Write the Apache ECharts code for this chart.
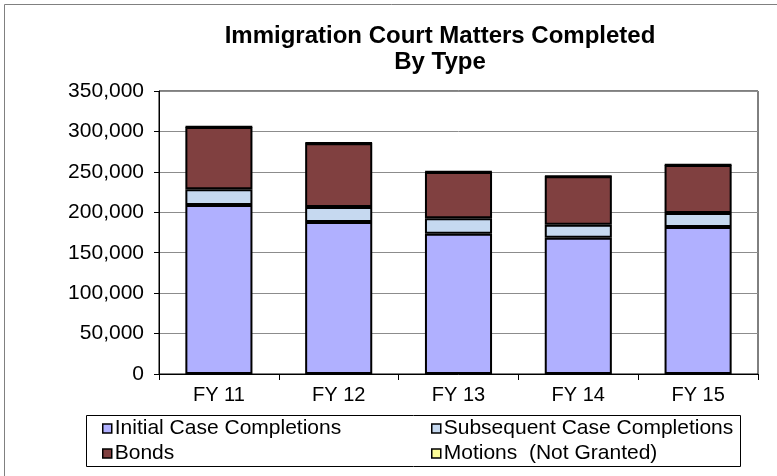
<!DOCTYPE html>
<html>
<head>
<meta charset="utf-8">
<script src="https://cdn.jsdelivr.net/npm/echarts@6/dist/echarts.min.js"></script>
<style>
  html, body { margin: 0; padding: 0; background: #fff; }
  #chart { width: 777px; height: 476px; }
</style>
</head>
<body>
<div id="chart"></div>
<script>
'use strict';

var categories = ['FY 11', 'FY 12', 'FY 13', 'FY 14', 'FY 15'];
var initialCase = [209000, 188000, 173600, 168600, 181800];
var subsequentCase = [19500, 18600, 19000, 16100, 17400];
var bonds = [77000, 78800, 57300, 59800, 59300];
var motions = [400, 400, 400, 400, 400];
var yTicks = [0, 50000, 100000, 150000, 200000, 250000, 300000, 350000];

var font = 'Liberation Sans, Arial, sans-serif';

var makeSeries = function (name, data, color) {
    return {
        name: name,
        type: 'bar',
        stack: 'total',
        data: data,
        barCategoryGap: '44%',
        itemStyle: { color: color, borderColor: '#000', borderWidth: 2 }
    };
};

var legendBase = {
    orient: 'vertical',
    top: 413,
    itemWidth: 9,
    itemHeight: 9,
    itemGap: 4,
    icon: 'rect',
    textStyle: { fontFamily: font, fontSize: 21, color: '#000', padding: [0, 0, 0, -2] },
    itemStyle: { borderColor: '#000', borderWidth: 1.5 }
};

var chart = echarts.init(document.getElementById('chart'));
chart.setOption({
    animation: false,
    title: {
        text: 'Immigration Court Matters Completed\nBy Type',
        left: 435,
        top: 18,
        textAlign: 'center',
        textStyle: { fontFamily: font, fontSize: 24, fontWeight: 'bold', color: '#000', lineHeight: 26 }
    },
    legend: [
        Object.assign({}, legendBase, { left: 97, data: ['Initial Case Completions', 'Bonds'] }),
        Object.assign({}, legendBase, { left: 426, data: ['Subsequent Case Completions', 'Motions  (Not Granted)'] })
    ],
    grid: {
        left: 159, right: 19, top: 91, bottom: 102,
        show: true, borderColor: '#000', borderWidth: 1
    },
    xAxis: {
        type: 'category',
        data: categories,
        axisLine: { lineStyle: { color: '#000', width: 1 } },
        axisTick: { show: true, length: 6, lineStyle: { color: '#000' } },
        axisLabel: { fontFamily: font, fontSize: 20, color: '#000', margin: 11 }
    },
    yAxis: {
        type: 'value',
        min: yTicks[0],
        max: yTicks[yTicks.length - 1],
        interval: 50000,
        axisLine: { show: true, lineStyle: { color: '#000', width: 1 } },
        axisTick: { show: true, length: 5, lineStyle: { color: '#000' } },
        splitLine: { lineStyle: { color: '#8c8c8c', width: 1 } },
        axisLabel: {
            fontFamily: font, fontSize: 21, color: '#000', margin: 15,
            formatter: function (v) { return v.toLocaleString('en-US'); }
        }
    },
    graphic: [
        {
            type: 'rect',
            shape: { x: 86.5, y: 415.5, width: 654, height: 51 },
            style: { fill: null, stroke: '#000', lineWidth: 1 },
            z: -1
        },
        {
            type: 'polyline',
            shape: { points: [[4.5, 480], [4.5, 4.5], [780, 4.5]] },
            style: { fill: null, stroke: '#808080', lineWidth: 1 }
        }
    ],
    series: [
        makeSeries('Initial Case Completions', initialCase, '#b0b0ff'),
        makeSeries('Subsequent Case Completions', subsequentCase, '#c6d9f0'),
        makeSeries('Bonds', bonds, '#804040'),
        makeSeries('Motions  (Not Granted)', motions, '#ffff99')
    ]
});
</script>
</body>
</html>
